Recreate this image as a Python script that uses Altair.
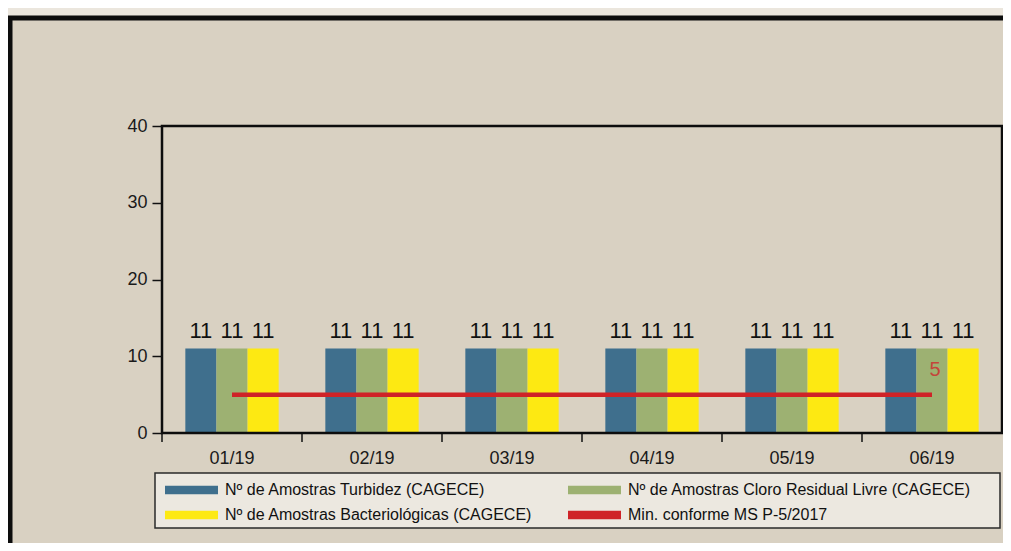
import altair as alt
import pandas as pd

# ---- data ----
meses = ["01/19", "02/19", "03/19", "04/19", "05/19", "06/19"]
turbidez = [11, 11, 11, 11, 11, 11]
cloro = [11, 11, 11, 11, 11, 11]
bacteriologicas = [11, 11, 11, 11, 11, 11]
minimo = [5, 5, 5, 5, 5, 5]

serie_turb = "Nº de Amostras Turbidez (CAGECE)"
serie_cloro = "Nº de Amostras Cloro Residual Livre (CAGECE)"
serie_bact = "Nº de Amostras Bacteriológicas (CAGECE)"
serie_min = "Min. conforme MS  P-5/2017"

# legend fills column by column: (turb, bact) | (cloro, min)
series_legenda = [serie_turb, serie_bact, serie_cloro, serie_min]
cores = ["#3f6f8d", "#fde912", "#9db172", "#cf2327"]
series_barras = [serie_turb, serie_cloro, serie_bact]

rows = []
for s, vals in [(serie_turb, turbidez), (serie_cloro, cloro), (serie_bact, bacteriologicas)]:
    for m, v in zip(meses, vals):
        rows.append({"mes": m, "serie": s, "valor": v})
df_bars = pd.DataFrame(rows)
df_min = pd.DataFrame({"mes": meses, "serie": [serie_min] * len(meses), "valor": minimo})
df_meses = pd.DataFrame({"mes": meses})
df_one = pd.DataFrame({"k": [0]})

FONT = "Liberation Sans, Arial, sans-serif"

color_scale = alt.Scale(domain=series_legenda, range=cores)
x_scale = alt.Scale(domain=meses, paddingInner=0, paddingOuter=0)
y_scale = alt.Scale(domain=[0, 40])

x_enc = alt.X(
    "mes:N", sort=meses, scale=x_scale,
    axis=alt.Axis(title=None, labelAngle=0, ticks=False, domain=False, grid=False, zindex=2,
                  labelPadding=16, labelFontSize=18, labelFont=FONT, labelColor="#1a1a1a"),
)
y_enc = alt.Y(
    "valor:Q", scale=y_scale,
    axis=alt.Axis(title=None, values=[0, 10, 20, 30, 40], grid=False, domain=False, zindex=2,
                  tickSize=10, tickColor="#111111", tickWidth=1.5, labelPadding=5,
                  labelFontSize=18, labelFont=FONT, labelColor="#1a1a1a"),
)
xoff = alt.XOffset("serie:N", sort=series_barras,
                   scale=alt.Scale(paddingOuter=0.75, paddingInner=0))

legend = alt.Legend(
    title=None, orient="none", legendX=3, legendY=354, columns=2,
    columnPadding=35, rowPadding=5, padding=0, clipHeight=20,
    symbolType="M-1,-0.16H1V0.16H-1Z", symbolSize=2809, symbolStrokeWidth=0,
    symbolOpacity=1, labelOffset=7, labelFont=FONT, labelFontSize=16,
    labelColor="#111111", labelLimit=500, zindex=2,
)

# outer page frame
frame = alt.Chart(df_one).mark_rect(fill="#d9d1c2", stroke="#0d0d0d", strokeWidth=5).encode(
    x=alt.value(-152), x2=alt.value(900), y=alt.value(-108), y2=alt.value(460)
)
# legend box
legend_box = alt.Chart(df_one).mark_rect(fill="#ece8e0", stroke="#2a2a2a", strokeWidth=1.5).encode(
    x=alt.value(-7), x2=alt.value(838), y=alt.value(347), y2=alt.value(402)
)
# plot border
plot_border = alt.Chart(df_one).mark_rect(filled=False, stroke="#0d0d0d", strokeWidth=2.5).encode(
    x=alt.value(0), x2=alt.value("width"), y=alt.value(0), y2=alt.value("height")
)

bars = alt.Chart(df_bars).mark_bar().encode(
    x=x_enc, xOffset=xoff, y=y_enc,
    color=alt.Color("serie:N", scale=color_scale, sort=series_legenda, legend=legend),
)
bar_labels = alt.Chart(df_bars).mark_text(
    baseline="alphabetic", dy=-11, fontSize=22, font=FONT, color="#111111"
).encode(x=alt.X("mes:N", sort=meses, scale=x_scale), xOffset=xoff,
         y=alt.Y("valor:Q", scale=y_scale), text="valor:Q")

x_ticks = alt.Chart(df_meses).mark_rule(color="#111111", strokeWidth=1.5).encode(
    x=alt.X("mes:N", sort=meses, scale=x_scale, bandPosition=0),
    y=alt.value(307), y2=alt.value(316),
)

line = alt.Chart(df_min).mark_line(strokeWidth=4.5).encode(
    x=alt.X("mes:N", sort=meses, scale=x_scale),
    y=alt.Y("valor:Q", scale=y_scale),
    color=alt.Color("serie:N", scale=color_scale, sort=series_legenda, legend=legend),
)
line_label = alt.Chart(df_min.tail(1)).mark_text(
    dx=3, dy=-25, fontSize=20, font=FONT, color="#c4453a"
).encode(x=alt.X("mes:N", sort=meses, scale=x_scale),
         y=alt.Y("valor:Q", scale=y_scale), text="valor:Q")

chart = alt.layer(
    frame, legend_box, bars, bar_labels, line, line_label, x_ticks, plot_border
).properties(
    width=840, height=307,
    autosize=alt.AutoSizeParams(type="none"),
    padding={"left": 154, "top": 118, "right": 1, "bottom": 110},
    background="#ebe6dd",
).configure_view(stroke=None)

chart.save("out.html", embed_options={"renderer": "svg", "actions": False})
